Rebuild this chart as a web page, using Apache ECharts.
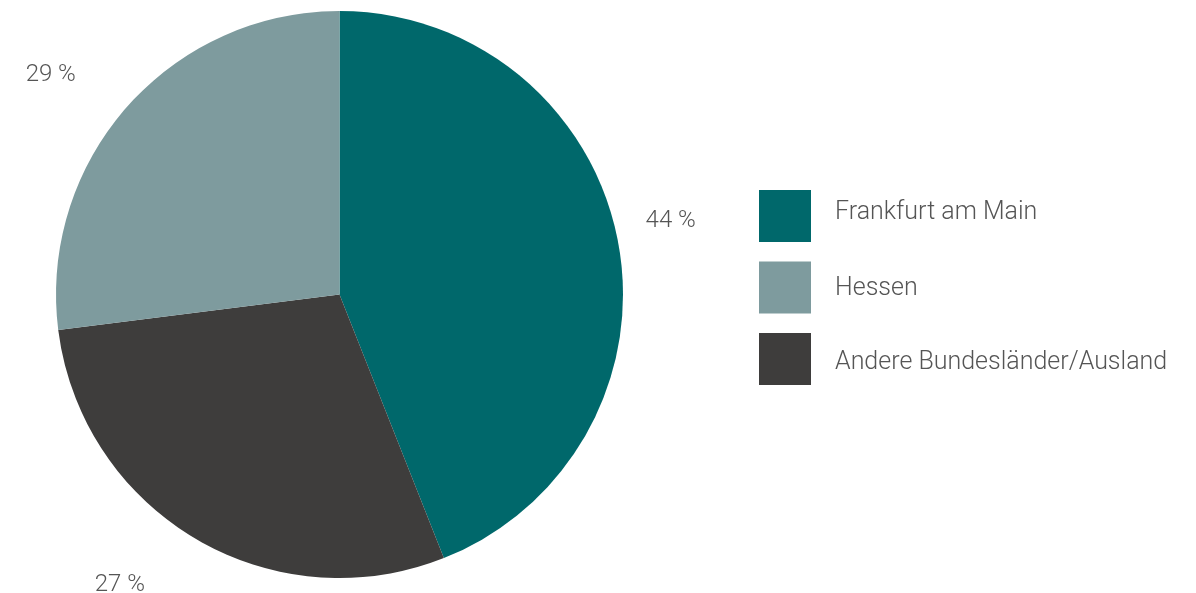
<!DOCTYPE html>
<html>
<head>
<meta charset="utf-8">
<script src="https://cdn.jsdelivr.net/npm/echarts@6/dist/echarts.min.js"></script>
<style>
html,body{margin:0;padding:0;background:#fff;}
#chart{width:1196px;height:593px;}
</style>
</head>
<body>
<div id="chart"></div>
<script>
// Categories in drawing order (clockwise from 12 o'clock)
const categories = ['Frankfurt am Main', 'Andere Bundesländer/Ausland', 'Hessen'];
// Slice sizes (percent)
const sliceValues = [44, 29, 27];
// Percent labels as printed next to each slice
const printedLabels = ['44 %', '27 %', '29 %'];
// Legend order as shown
const legendOrder = ['Frankfurt am Main', 'Hessen', 'Andere Bundesländer/Ausland'];
const colors = ['#00686b', '#3e3d3c', '#7e9b9e'];

// small visual nudges for the label placement
const labelNudge = [[3, -17], [-35, 29], [-31, -19]];
// vertical text padding per legend row [top, bottom]
const legendTextPad = [[0, 7], [2, 0], [8, 0]];

const baseText = {fontFamily: 'Roboto', fontWeight: 300, fontSize: 25, color: '#555555'};
const rich = {};
legendTextPad.forEach((p, i) => {
  rich['r' + i] = Object.assign({}, baseText, {padding: [p[0], 0, p[1], 19]});
});

const chart = echarts.init(document.getElementById('chart'), null, {renderer: 'canvas'});
const option = {
  animation: false,
  color: colors,
  legend: {
    data: legendOrder,
    orient: 'vertical',
    left: 759,
    top: 190,
    padding: 0,
    icon: 'rect',
    itemWidth: 52,
    itemHeight: 52,
    itemGap: 19.5,
    selectedMode: false,
    formatter: name => '{r' + legendOrder.indexOf(name) + '|' + name + '}',
    textStyle: Object.assign({}, baseText, {rich: rich})
  },
  series: [{
    type: 'pie',
    center: [339.5, 294.5],
    radius: [0, 283.5],
    startAngle: 90,
    clockwise: true,
    avoidLabelOverlap: false,
    emphasis: {disabled: true},
    label: {
      show: true,
      position: 'outside',
      fontFamily: 'Roboto',
      fontWeight: 300,
      fontSize: 24,
      color: '#555555',
      formatter: p => printedLabels[p.dataIndex]
    },
    labelLine: {show: false, length: 20, length2: 0},
    labelLayout: p => ({dx: labelNudge[p.dataIndex][0], dy: labelNudge[p.dataIndex][1]}),
    data: categories.map((c, i) => ({name: c, value: sliceValues[i]}))
  }]
};
chart.setOption(option);
</script>
</body>
</html>
